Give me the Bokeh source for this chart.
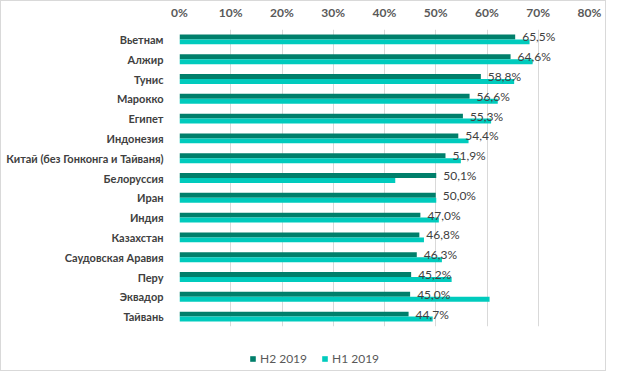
from bokeh.plotting import figure
from bokeh.models import FactorRange, FixedTicker, NumeralTickFormatter, Legend, LegendItem, ColumnDataSource
from bokeh.layouts import column
from bokeh.transform import dodge
from bokeh.core.properties import value
from bokeh.embed import file_html
from bokeh.resources import INLINE

categories = ["Вьетнам", "Алжир", "Тунис", "Марокко", "Египет", "Индонезия",
              "Китай (без Гонконга и Тайваня)", "Белоруссия", "Иран", "Индия",
              "Казахстан", "Саудовская Аравия", "Перу", "Эквадор", "Тайвань"]
h2_2019 = [0.655, 0.646, 0.588, 0.566, 0.553, 0.544, 0.519, 0.501, 0.500, 0.470,
           0.468, 0.463, 0.452, 0.450, 0.447]
h1_2019 = [0.683, 0.689, 0.653, 0.621, 0.608, 0.564, 0.549, 0.421, 0.501, 0.506,
           0.477, 0.512, 0.531, 0.605, 0.494]
series_names = ["H2 2019", "H1 2019"]
series_colors = ["#007f6b", "#00cbbd"]
x_ticks = [0, 0.1, 0.2, 0.3, 0.4, 0.5, 0.6, 0.7, 0.8]

labels = [("%.1f%%" % (v * 100)).replace(".", ",") for v in h2_2019]
src = ColumnDataSource(dict(cat=categories, h2=h2_2019, h1=h1_2019, lab=labels))

FONT = "Lato"
p = figure(width=604, height=333, output_backend="svg", toolbar_location=None,
           y_range=FactorRange(factors=list(reversed(categories))),
           x_range=(0, 0.8), x_axis_location="above",
           min_border_left=178, min_border_right=16, min_border_top=24, min_border_bottom=8)
p.outline_line_color = None
p.background_fill_color = "white"

r2 = p.hbar(y=dodge("cat", 0.125, range=p.y_range), right="h2", left=0, height=0.25,
            source=src, color=series_colors[0], line_color=None)
r1 = p.hbar(y=dodge("cat", -0.125, range=p.y_range), right="h1", left=0, height=0.25,
            source=src, color=series_colors[1], line_color=None)
p.text(x="h2", y=dodge("cat", 0.125, range=p.y_range), text="lab", source=src,
       x_offset=7, text_baseline="middle", text_align="left",
       text_font=value(FONT), text_font_size="12px", text_color="#404040")

xa = p.xaxis[0]
xa.ticker = FixedTicker(ticks=x_ticks)
xa.formatter = NumeralTickFormatter(format="0%")
xa.axis_line_color = None
xa.major_tick_line_color = None
xa.minor_tick_line_color = None
xa.major_label_text_font = FONT
xa.major_label_text_font_size = "12px"
xa.major_label_text_font_style = "bold"
xa.major_label_text_color = "#595959"
xa.major_label_standoff = 4

ya = p.yaxis[0]
ya.axis_line_color = None
ya.major_tick_line_color = None
ya.minor_tick_line_color = None
ya.major_label_text_font = FONT
ya.major_label_text_font_size = "11px"
ya.major_label_text_font_style = "bold"
ya.major_label_text_color = "#404040"
ya.major_label_standoff = 10

p.xgrid.grid_line_color = "#d9d9d9"
p.xgrid.ticker = FixedTicker(ticks=x_ticks)
p.ygrid.grid_line_color = None

# legend-only strip below the chart (zero-height copies of the series carry the swatches)
pl = figure(width=604, height=36, output_backend="svg", toolbar_location=None,
            x_range=(0, 1), y_range=(0, 1), min_border=0)
pl.axis.visible = False
pl.grid.grid_line_color = None
pl.outline_line_color = None
items = []
for name, col, vals in zip(series_names, series_colors, [h2_2019, h1_2019]):
    rr = pl.hbar(y=vals, right=vals, left=0, height=0, color=col, line_color=None)
    items.append(LegendItem(label=name, renderers=[rr]))
legend = Legend(items=items, orientation="horizontal", location=(70, 4),
                label_text_font=FONT, label_text_font_size="12px", label_text_color="#595959",
                glyph_width=7, glyph_height=7, label_standoff=4, spacing=14, label_height=12,
                border_line_color=None, background_fill_alpha=0, padding=0, margin=0)
pl.add_layout(legend, "center")

layout = column(p, pl, spacing=0, styles={"border": "1px solid #d9d9d9"})
open("out.html", "w").write(file_html(layout, INLINE))
